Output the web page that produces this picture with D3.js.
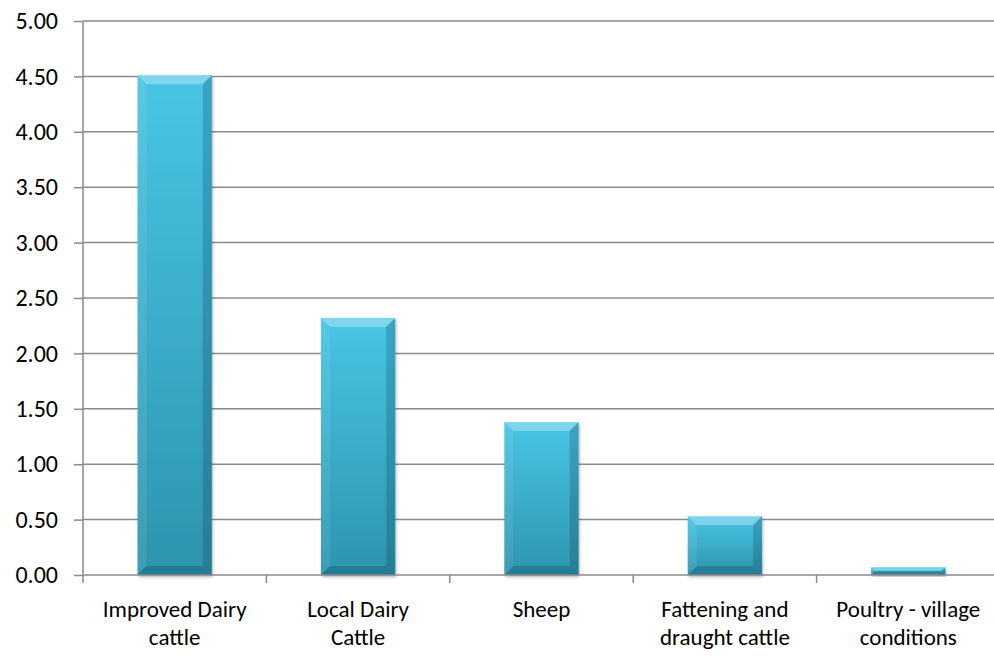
<!DOCTYPE html>
<meta charset="utf-8">
<style>
body { margin: 0; background: #fff; }
svg { font-family: Carlito, Lato, "Open Sans", sans-serif; }
.grid line { stroke: #8a8a8a; stroke-width: 1.5; }
.axis text { font-size: 24px; fill: #000; }
.xaxis text { font-size: 23px; }
.axis path, .axis line { stroke: #8a8a8a; stroke-width: 1.5; }
</style>
<svg width="994" height="656"></svg>
<script src="https://d3js.org/d3.v7.min.js"></script>
<script>

var categories = [["Improved Dairy", "cattle"], ["Local Dairy", "Cattle"], ["Sheep"],
                  ["Fattening and", "draught cattle"], ["Poultry - village", "conditions"]];
var values = [4.51, 2.32, 1.38, 0.53, 0.07];
var yTicks = [0, 0.5, 1, 1.5, 2, 2.5, 3, 3.5, 4, 4.5, 5];

var svg = d3.select("svg"),
    mLeft = 83, mRight = 1000, mTop = 21, mBottom = 575;

var x = d3.scaleBand()
    .domain(d3.range(categories.length))
    .range([mLeft, mRight])
    .paddingInner(0.595).paddingOuter(0.2975);

var y = d3.scaleLinear().domain([0, 5]).range([mBottom, mTop]);

var defs = svg.append("defs");
var grad = defs.append("linearGradient").attr("id", "barfill")
    .attr("x1", 0).attr("y1", 0).attr("x2", 0).attr("y2", 1);
grad.append("stop").attr("offset", "0%").attr("stop-color", "#48c5e5");
grad.append("stop").attr("offset", "100%").attr("stop-color", "#2d94ad");

var sh = defs.append("filter").attr("id", "shadow")
    .attr("x", "-10%").attr("y", "-10%").attr("width", "130%").attr("height", "130%");
sh.append("feDropShadow").attr("dx", 1).attr("dy", 2).attr("stdDeviation", 1.5)
    .attr("flood-color", "#000").attr("flood-opacity", 0.3);

// gridlines
svg.append("g").attr("class", "grid")
  .selectAll("line").data(yTicks.slice(1)).enter().append("line")
    .attr("x1", mLeft).attr("x2", mRight)
    .attr("y1", function(d) { return y(d); }).attr("y2", function(d) { return y(d); });

// bars
var bars = svg.append("g").selectAll("g").data(values).enter().append("g");

bars.append("rect")
    .attr("x", function(d, i) { return x(i); })
    .attr("y", function(d) { return y(d); })
    .attr("width", x.bandwidth())
    .attr("height", function(d) { return y(0) - y(d); })
    .attr("fill", "url(#barfill)")
    .attr("filter", "url(#shadow)");

// bevel edges
function bevel(d, i) {
  var x0 = x(i), x1 = x0 + x.bandwidth(), y0 = y(d), y1 = y(0);
  var b = Math.min(9, (y1 - y0) / 2);
  return [
    { p: [[x0, y0], [x1, y0], [x1 - b, y0 + b], [x0 + b, y0 + b]], c: "rgba(255,255,255,0.3)" },
    { p: [[x0, y0], [x0 + b, y0 + b], [x0 + b, y1 - b], [x0, y1]], c: "rgba(255,255,255,0.08)" },
    { p: [[x1, y0], [x1, y1], [x1 - b, y1 - b], [x1 - b, y0 + b]], c: "rgba(0,40,60,0.2)" },
    { p: [[x0, y1], [x0 + b, y1 - b], [x1 - b, y1 - b], [x1, y1]], c: "rgba(0,40,60,0.22)" }
  ];
}
bars.each(function(d, i) {
  d3.select(this).selectAll("polygon").data(bevel(d, i)).enter().append("polygon")
    .attr("points", function(e) { return e.p.join(" "); })
    .attr("fill", function(e) { return e.c; });
});

// y axis
var yAxis = svg.append("g").attr("class", "axis")
    .attr("transform", "translate(" + mLeft + ",0)")
    .call(d3.axisLeft(y).tickValues(yTicks).tickSize(9).tickPadding(16)
      .tickFormat(d3.format(".2f")));
yAxis.attr("font-family", null).attr("font-size", null);
yAxis.select(".domain").attr("d", "M0," + mTop + "V" + mBottom);

// x axis
var xAxis = svg.append("g").attr("class", "axis xaxis")
    .attr("transform", "translate(0," + mBottom + ")");
xAxis.append("line").attr("x1", mLeft).attr("x2", mRight);
xAxis.selectAll(".tk").data(d3.range(categories.length + 1)).enter().append("line")
    .attr("class", "tk")
    .attr("x1", function(i) { return mLeft + i * x.step(); })
    .attr("x2", function(i) { return mLeft + i * x.step(); })
    .attr("y1", 0).attr("y2", 8);
xAxis.selectAll("text.lbl").data(categories).enter().append("text")
    .attr("class", "lbl")
    .attr("text-anchor", "middle")
    .attr("x", function(d, i) { return x(i) + x.bandwidth() / 2; })
    .attr("y", 42)
  .selectAll("tspan").data(function(d) { return d; }).enter().append("tspan")
    .attr("x", function() { return d3.select(this.parentNode).attr("x"); })
    .attr("dy", function(d, j) { return j ? 28 : 0; })
    .text(function(d) { return d; });

</script>
